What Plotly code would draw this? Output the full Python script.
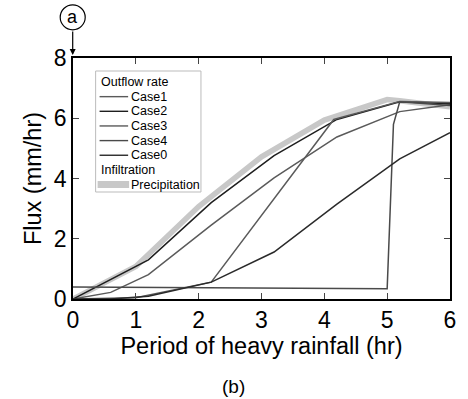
import plotly.graph_objects as go

# Data
precip_x = [0, 1.0, 2.0, 3.0, 4.0, 5.0, 5.2, 6.0]
precip_y = [0, 1.08, 3.07, 4.72, 5.94, 6.62, 6.58, 6.38]

case1_x = [0, 0.6, 1.2, 2.2, 3.2, 4.2, 5.2, 6.0]
case1_y = [0, 0.22, 0.81, 2.45, 4.02, 5.38, 6.22, 6.45]

case2_x = [0, 1.2, 2.2, 3.2, 4.2, 5.2, 6.0]
case2_y = [0, 1.3, 3.2, 4.76, 5.96, 6.55, 6.48]

case3_x = [0, 1.0, 2.2, 4.15, 5.2, 6.0]
case3_y = [0, 0.04, 0.56, 5.96, 6.56, 6.52]

case4_x = [0, 5.0, 5.1, 5.2, 6.0]
case4_y = [0.4, 0.34, 5.8, 6.55, 6.42]

case0_x = [0, 0.6, 1.2, 2.2, 3.2, 4.2, 5.2, 6.0]
case0_y = [0, 0.0, 0.09, 0.56, 1.56, 3.15, 4.65, 5.52]

x_ticks = [0, 1, 2, 3, 4, 5, 6]
y_ticks = [0, 2, 4, 6, 8]

case_names = ["Case1", "Case2", "Case3", "Case4", "Case0"]
case_colors = ["#5a5a5a", "#1e1e1e", "#5a5a5a", "#4a4a4a", "#2a2a2a"]
precip_color = "#c8c8c8"

fig = go.Figure()
fig.add_trace(go.Scatter(x=precip_x, y=precip_y, mode="lines", name="Precipitation",
                         line=dict(color=precip_color, width=5.5), showlegend=False))
for name, xs, ys, col in zip(case_names, [case1_x, case2_x, case3_x, case4_x, case0_x],
                             [case1_y, case2_y, case3_y, case4_y, case0_y], case_colors):
    fig.add_trace(go.Scatter(x=xs, y=ys, mode="lines", name=name,
                             line=dict(color=col, width=1.5), showlegend=False))

font = "Liberation Sans, Arial, sans-serif"
L, T, W, H = 73, 58, 383, 241
fig.update_layout(
    width=468, height=399,
    margin=dict(l=L, r=468 - L - W, t=T, b=399 - T - H),
    paper_bgcolor="white", plot_bgcolor="white",
    font=dict(family=font, color="black"),
    showlegend=False,
    xaxis=dict(range=[0, 6], tickvals=x_ticks, ticks="inside", ticklen=6,
               showline=True, linecolor="black", linewidth=1.5, mirror="ticks",
               showgrid=False, zeroline=False, tickfont=dict(size=23),
               title=dict(text="Period of heavy rainfall (hr)", font=dict(size=23.5), standoff=1)),
    yaxis=dict(range=[0, 8], tickvals=y_ticks, ticks="inside", ticklen=6,
               showline=True, linecolor="black", linewidth=1.5, mirror="ticks",
               showgrid=False, zeroline=False, tickfont=dict(size=23),
               title=dict(text="Flux (mm/hr)", font=dict(size=23.5), standoff=6)),
)

def px(xp):
    return (xp - L) / W

def py(yp):
    return (T + H - yp) / H

# hand-drawn legend box
fig.add_shape(type="rect", xref="paper", yref="paper", x0=px(96), x1=px(203), y0=py(192), y1=py(71),
              line=dict(color="#bbbbbb", width=1), fillcolor="white", layer="above")
rows = [("Outflow rate", None, 0)] + [(n, c, 1.4) for n, c in zip(case_names, case_colors)] + \
       [("Infiltration", None, 0), ("Precipitation", precip_color, 7)]
y0 = 82.0
step = 14.65
for i, (label, col, w) in enumerate(rows):
    yy = y0 + i * step
    if col is None:
        fig.add_annotation(xref="paper", yref="paper", x=px(99), y=py(yy), text=label,
                           xanchor="left", yanchor="middle", showarrow=False, font=dict(size=12.5))
    else:
        x_start, x_end = (98, 130) if w > 3 else (100, 129)
        fig.add_shape(type="line", xref="paper", yref="paper", x0=px(x_start), x1=px(x_end),
                      y0=py(yy), y1=py(yy), line=dict(color=col, width=w), layer="above")
        fig.add_annotation(xref="paper", yref="paper", x=px(130), y=py(yy), text=label,
                           xanchor="left", yanchor="middle", showarrow=False, font=dict(size=12.5))

# circled "a" marker with arrow
fig.add_shape(type="circle", xref="paper", yref="paper", xsizemode="pixel", ysizemode="pixel",
              xanchor=px(72.7), yanchor=py(17.3), x0=-12.5, x1=12.5, y0=-12.5, y1=12.5,
              line=dict(color="black", width=1.2))
fig.add_annotation(xref="paper", yref="paper", x=px(72.7), y=py(17.3), text="a",
                   xanchor="center", yanchor="middle", showarrow=False, font=dict(size=18))
fig.add_annotation(xref="paper", yref="paper", x=px(72.7), y=py(55), ax=0, ay=-25,
                   text="", showarrow=True, arrowhead=2, arrowsize=1, arrowwidth=1.2,
                   arrowcolor="black")
fig.add_annotation(xref="paper", yref="paper", x=px(236), y=py(386), text="(b)",
                   xanchor="center", yanchor="middle", showarrow=False, font=dict(size=19))

fig.write_html("out.html")
